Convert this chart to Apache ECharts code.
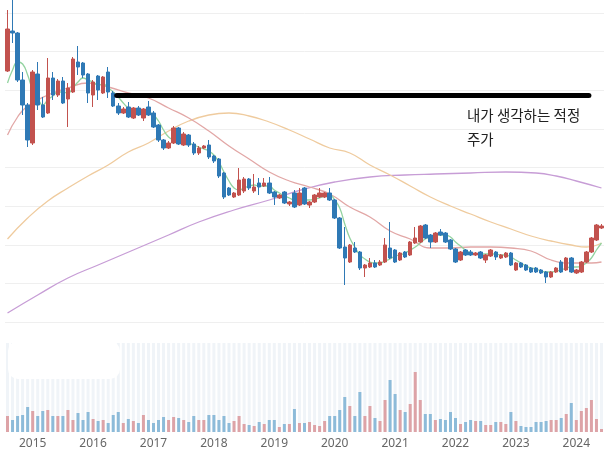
<!DOCTYPE html>
<html><head><meta charset="utf-8">
<script src="https://cdn.jsdelivr.net/npm/echarts/dist/echarts.min.js"></script>
<style>html,body{margin:0;padding:0;background:#fff}#c{width:604px;height:454px}</style>
</head><body><div id="c"></div>
<script>
// monthly candles, Aug 2014 .. Jun 2024 (price in units of 100 won)
const startYear = 2014, startMonth = 8, monthCount = 119;
const yearTicks = ['2015','2016','2017','2018','2019','2020','2021','2022','2023','2024'];

const openP = [251,291,289,242,217,179,248,217,209,244, 227,241,223,230,260,259,248,227,246,229,
  250,229,216,209,215,204,214,204,215,209, 197,182,174,179,194,177,187,178,169,174,
  177,166,163,149,134,125,127,131,143,131, 139,136,139,130,124,130,118,129,117,134,
  117,120,125,125,129,122,104,75,60,74, 70,54,55,59,57,60,74,72,62,70,
  67,79,80,97,87,80,90,89,82,73, 62,72,70,67,70,62,66,70,64,65,
  69,52,59,57,54,54,52,50,45,50, 60,52,64,49,50,60,70,82,94];
const closeP = [293,289,242,217,182,250,217,205,244,227, 241,219,234,263,255,247,229,240,232,245,
  230,216,209,213,205,214,207,213,207,195, 182,174,179,194,178,188,177,169,174,176,
  165,161,146,125,127,129,142,143,134,135, 135,139,129,125,127,119,120,115,129,118,
  120,127,129,129,122,104,74,64,77,70, 54,57,59,55,60,77,64,60,69,65,
  80,84,96,84,80,89,87,80,73,60, 70,67,67,69,64,67,72,65,67,69,
  57,59,55,52,50,50,49,45,50,54, 50,64,50,52,60,70,84,97,96];
const lowP = [250,279,240,207,175,177,212,204,208,222, 225,218,195,229,247,244,219,215,222,228,
  224,215,207,208,204,203,206,201,206,194, 180,172,173,178,177,176,175,167,167,173,
  163,159,144,123,126,124,126,129,132,129, 127,135,128,117,123,118,116,114,116,117,
  114,119,124,124,121,103,73,37,59,69, 52,45,54,54,56,59,63,59,61,64,
  66,78,79,83,74,79,86,79,72,59, 61,66,66,66,63,59,65,62,63,64,
  56,51,54,51,49,49,48,39,44,49, 49,51,49,48,49,59,69,81,93];
const highP = [312,326,290,250,219,252,260,225,264,250, 243,245,239,265,276,260,249,242,247,246,
  255,231,219,215,220,215,216,214,221,211, 198,183,181,196,195,190,188,180,176,177,
  182,167,164,150,135,130,154,145,144,148, 144,144,145,131,128,131,121,132,134,135,
  121,128,134,130,134,123,105,95,78,80, 71,58,64,62,62,84,100,73,70,71,
  81,95,97,98,88,90,93,90,83,74, 71,73,72,70,71,68,73,71,68,70,
  70,60,60,58,55,55,53,51,51,55, 62,65,65,53,61,71,85,98,98];
const volume = [16,12,16,17,25,21,16,21,22,16, 16,16,22,12,19,12,20,13,11,12,
  9,17,20,9,13,11,9,17,12,9, 12,15,12,15,14,12,10,16,12,12,
  17,17,12,16,9,11,16,8,7,6, 10,8,12,12,5,8,8,23,9,9,
  10,7,6,11,16,16,22,35,26,16, 40,16,26,14,11,32,52,38,22,20,
  28,60,32,18,18,12,13,12,20,14, 8,10,12,11,11,7,7,10,10,8,
  20,11,6,5,5,10,10,11,12,12, 14,18,29,12,21,24,32,13,3];
const ma5 = [239,252,260,258,247,232,224,217,222,226, 230,230,229,234,240,244,242,240,237,238,
  234,230,225,219,214,212,211,211,210,207, 201,192,185,182,181,180,179,177,175,173,
  171,167,160,150,141,134,132,134,136,137, 136,136,136,132,129,126,124,122,122,122,
  122,123,124,126,127,122,114,98,84,75, 67,63,60,59,59,61,63,66,67,69,
  72,75,79,83,85,87,87,87,85,80, 76,72,69,68,68,68,68,68,67,67,
  65,62,59,56,54,53,51,50,50,51, 52,54,55,55,56,59,64,72,79];
// [month number (1 = first candle), value]
const ma20 = [[1,187],[3,205],[5,216],[9,227],[13,234],[17,239],[21,235],[25,229],[29,224],[33,214],[37,204],[41,191],[45,176],[49,163],[53,150],[57,141],[61,135],[65,128],[69,115],[73,105],[77,91],[81,83],[85,74],[89,74],[93,75],[97,75],[101,74],[105,71],[109,62],[113,59],[117,59],[119,60]];
const ma60 = [[1,83],[5,104],[9,121],[13,134],[17,146],[21,157],[25,170],[29,179],[33,191],[37,201],[41,207],[45,209],[49,206],[53,200],[57,192],[61,183],[65,174],[69,169],[73,157],[77,147],[81,136],[85,125],[89,116],[93,108],[97,100],[101,93],[105,86],[109,81],[113,77],[116,75],[119,79]];
const ma120 = [[1,9],[7,27],[13,44],[19,57],[26,72],[33,87],[39,100],[46,112],[53,122],[60,133],[66,140],[73,145],[80,147],[86,148],[93,149],[100,150],[106,149],[110,146],[114,141],[119,134]];
// annotation: "fair price" line
const fairPrice = 226.5, fairFrom = 22.7, fairTo = 116.5;
const noteText = '내가 생각하는 적정\n주가';

const categories = [];
for (let k = 0; k < monthCount; k++) {
  const m = startMonth - 1 + k;
  categories.push((startYear + Math.floor(m / 12)) + '-' + String(m % 12 + 1).padStart(2, '0'));
}
const upC = '#c2524e', downC = '#2f79b5', volUp = '#dda3a7', volDown = '#8dbbd9';
const candles = categories.map((_, i) => [openP[i], closeP[i], lowP[i], highP[i]]);
const volData = volume.map((v, i) => ({ value: v, itemStyle: { color: closeP[i] >= openP[i] ? volUp : volDown } }));

const chart = echarts.init(document.getElementById('c'), null, { renderer: 'canvas' });
chart.setOption({
  animation: false,
  backgroundColor: '#fff',
  grid: [
    { left: 5, right: 0, top: 13, height: 309 },
    { left: 5, right: 0, top: 343, height: 89 }
  ],
  xAxis: [
    { type: 'category', gridIndex: 0, data: categories, show: false, boundaryGap: true },
    { type: 'value', gridIndex: 0, min: 0.5, max: monthCount + 0.5, show: false },
    { type: 'category', gridIndex: 1, data: categories, boundaryGap: true,
      axisLine: { show: false }, axisTick: { show: false },
      axisLabel: { color: '#666', fontSize: 12, margin: 6, fontFamily: 'Noto Sans',
        interval: (idx, val) => val.endsWith('-01') && yearTicks.includes(val.slice(0, 4)),
        formatter: val => val.slice(0, 4) } }
  ],
  yAxis: [
    { type: 'value', gridIndex: 0, min: 0, max: 309, interval: 38.625,
      axisLabel: { show: false }, axisLine: { show: false }, axisTick: { show: false },
      splitLine: { lineStyle: { color: '#efefef', width: 1 } } },
    { type: 'value', gridIndex: 1, min: 0, max: 89, show: false, splitLine: { show: false } }
  ],
  series: [
    { type: 'line', xAxisIndex: 1, yAxisIndex: 0, data: ma120, smooth: true, symbol: 'none',
      lineStyle: { color: '#c79dd6', width: 1.3 }, z: 2, silent: true,
      markLine: { silent: true, symbol: ['none', 'none'], label: { show: false },
        lineStyle: { color: '#000', width: 5, type: 'solid', cap: 'round' },
        data: [[{ coord: [fairFrom, fairPrice] }, { coord: [fairTo, fairPrice] }]] } },
    { type: 'line', xAxisIndex: 1, yAxisIndex: 0, data: ma60, smooth: true, symbol: 'none',
      lineStyle: { color: '#efcb9e', width: 1.3 }, z: 2, silent: true },
    { type: 'line', xAxisIndex: 1, yAxisIndex: 0, data: ma20, smooth: true, symbol: 'none',
      lineStyle: { color: '#e2a7a6', width: 1.3 }, z: 2, silent: true },
    { type: 'line', xAxisIndex: 0, yAxisIndex: 0, data: ma5, smooth: true, symbol: 'none',
      lineStyle: { color: '#93d3a0', width: 1.3 }, z: 2, silent: true },
    { type: 'candlestick', xAxisIndex: 0, yAxisIndex: 0, data: candles, barWidth: 4, clip: false, z: 3,
      itemStyle: { color: upC, color0: downC, borderColor: upC, borderColor0: downC, borderWidth: 1 } },
    { type: 'bar', xAxisIndex: 2, yAxisIndex: 1, data: volData, barWidth: 3,
      showBackground: true, backgroundStyle: { color: '#f0f4f8' } }
  ],
  graphic: [
    { type: 'rect', shape: { x: 8, y: 341, width: 112, height: 38, r: 10 }, style: { fill: '#fff' }, z: 100 },
    { type: 'text', left: 467, top: 103, z: 100,
      style: { text: noteText, fontSize: 14.5, lineHeight: 24, fill: '#222', fontFamily: 'Noto Sans CJK KR' } }
  ]
});
</script></body></html>
